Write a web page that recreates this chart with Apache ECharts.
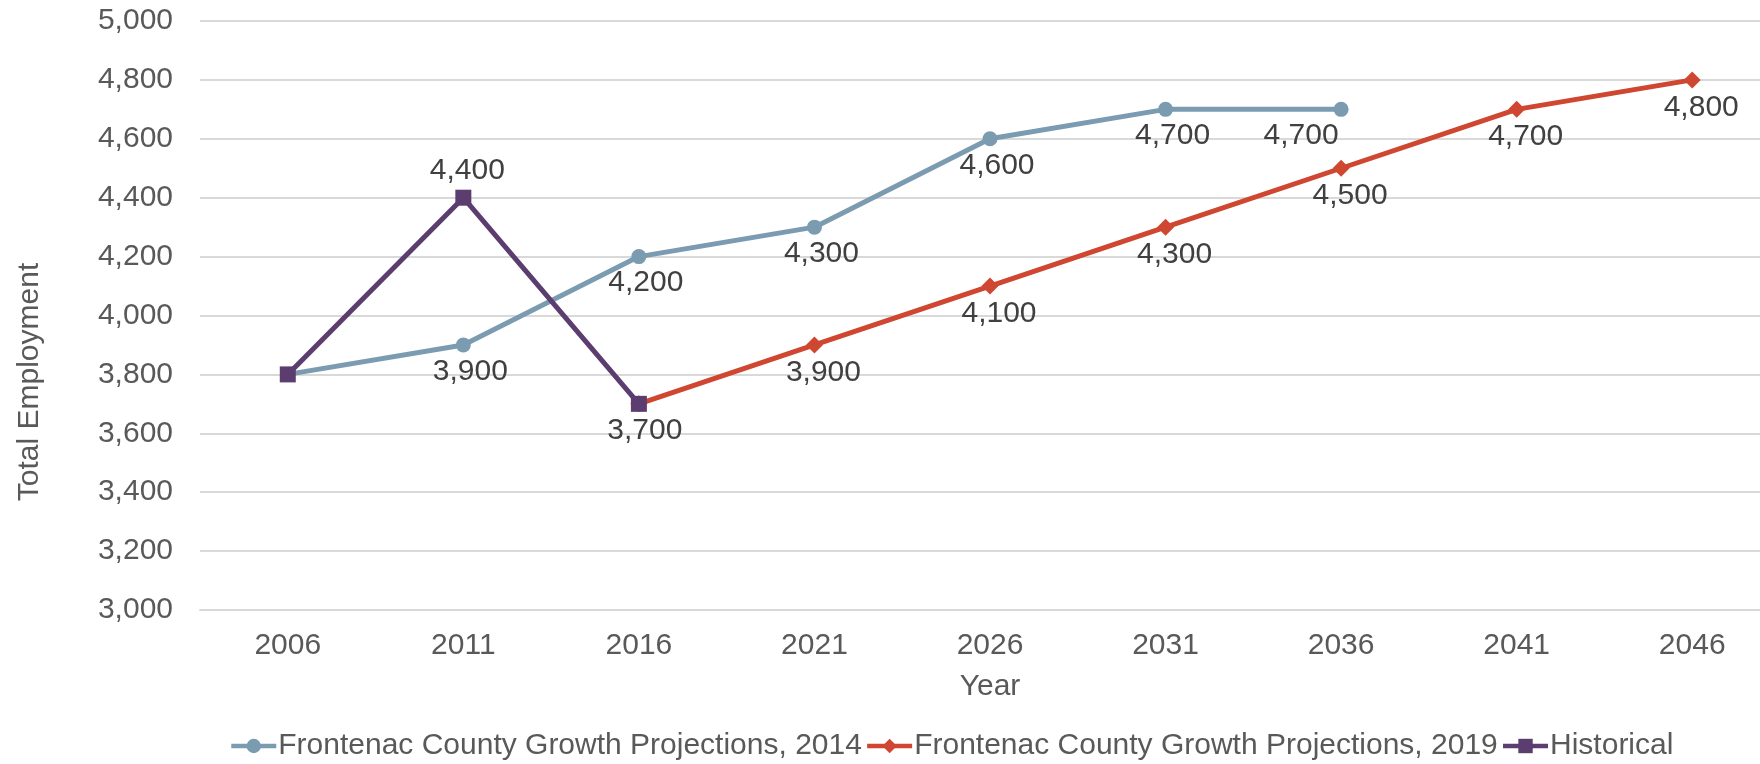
<!DOCTYPE html>
<html>
<head>
<meta charset="utf-8">
<script src="https://cdn.jsdelivr.net/npm/echarts@6/dist/echarts.min.js"></script>
<style>
html,body{margin:0;padding:0;background:#fff;}
#chart{width:1760px;height:764px;}
</style>
</head>
<body>
<div id="chart"></div>
<script>
const years = ['2006','2011','2016','2021','2026','2031','2036','2041','2046'];
const proj2014 = [3800, 3900, 4200, 4300, 4600, 4700, 4700, null, null];
const proj2019 = [null, null, 3700, 3900, 4100, 4300, 4500, 4700, 4800];
const historical = [3800, 4400, 3700, null, null, null, null, null, null];
const seriesNames = ['Frontenac County Growth Projections, 2014', 'Frontenac County Growth Projections, 2019', 'Historical'];

const FONT = '"Liberation Sans", Arial, sans-serif';
const FS = 30;
const fmt = v => v.toLocaleString('en-US');

function build(values, labelFn) {
  return values.map((v, i) => {
    if (v === null) return null;
    return { value: v, label: labelFn(i) };
  });
}

const blueData = build(proj2014, i => i === 0 ? { show: false } :
  (i === 6 ? { show: true, position: 'bottom', offset: [-40, 0] } : { show: true, position: 'bottom', offset: [7, 0] }));
const redData = build(proj2019, i => i === 2 ? { show: false } : { show: true, position: 'bottom', offset: [9, 0] });
const histData = build(historical, i => i === 0 ? { show: false } :
  (i === 1 ? { show: true, position: 'top', offset: [4, 0] } : { show: true, position: 'bottom', offset: [6, 0] }));

const labelBase = { fontFamily: FONT, fontSize: FS, color: '#404040', distance: 4, formatter: p => fmt(p.value) };

const chart = echarts.init(document.getElementById('chart'), null, { renderer: 'canvas' });
chart.setOption({
  animation: false,
  backgroundColor: '#ffffff',
  textStyle: { fontFamily: FONT },
  grid: { left: 200, right: -20, top: 21, bottom: 154, containLabel: false, outerBoundsMode: 'none' },
  legend: {
    left: 224, top: 726,
    itemWidth: 45, itemHeight: 18, itemGap: 3,
    lineStyle: { width: 4.5 },
    textStyle: { fontFamily: FONT, fontSize: FS, color: '#595959', padding: [0, 0, 0, -3] },
    data: seriesNames
  },
  xAxis: {
    type: 'category', data: years, boundaryGap: true,
    name: 'Year', nameLocation: 'middle', nameGap: 62,
    nameTextStyle: { fontFamily: FONT, fontSize: FS, color: '#595959' },
    axisLine: { show: true, lineStyle: { color: '#d9d9d9', width: 2 } },
    axisTick: { show: false },
    axisLabel: { fontFamily: FONT, fontSize: FS, color: '#595959', margin: 21 },
    splitLine: { show: false }
  },
  yAxis: {
    type: 'value', min: 3000, max: 5000, interval: 200,
    name: 'Total Employment', nameLocation: 'middle', nameRotate: 90, nameGap: 155,
    nameTextStyle: { fontFamily: FONT, fontSize: FS, color: '#595959', padding: [0, 133, 0, 0] },
    axisLine: { show: false }, axisTick: { show: false },
    axisLabel: { fontFamily: FONT, fontSize: FS, color: '#595959', margin: 27, formatter: v => fmt(v) },
    splitLine: { lineStyle: { color: '#d9d9d9', width: 2 } }
  },
  series: [
    {
      name: seriesNames[0], type: 'line', data: blueData,
      symbol: 'circle', symbolSize: 15,
      lineStyle: { color: '#7b9bb0', width: 5 }, itemStyle: { color: '#7b9bb0' },
      label: labelBase, z: 2
    },
    {
      name: seriesNames[1], type: 'line', data: redData,
      symbol: 'diamond', symbolSize: 17,
      lineStyle: { color: '#cf4731', width: 5 }, itemStyle: { color: '#cf4731' },
      label: labelBase, z: 3
    },
    {
      name: seriesNames[2], type: 'line', data: histData,
      symbol: 'rect', symbolSize: 16,
      lineStyle: { color: '#5c3d6f', width: 5 }, itemStyle: { color: '#5c3d6f' },
      label: labelBase, z: 4
    }
  ]
});
</script>
</body>
</html>
